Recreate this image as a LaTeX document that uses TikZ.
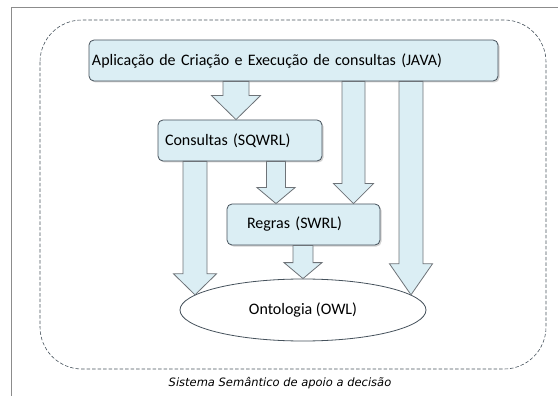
\documentclass[tikz,border=0pt]{standalone}
\usepackage{fontspec}
\setmainfont{Carlito}
\newfontfamily\captionfont{DejaVu Sans}
\usepackage{xcolor}
\definecolor{colorBox}{HTML}{DBEEF4}
\definecolor{colorBorder}{HTML}{46525C}
\definecolor{colorArrow}{HTML}{6E7378}
\definecolor{colorFrame}{HTML}{8C8C8C}
\usepackage{tikz}
\usetikzlibrary{calc, shapes.geometric, shadows}
\tikzset{
  querybox/.style={draw=colorBorder, fill=colorBox, rounded corners=5pt, thick,
    minimum height=41pt, align=left, font=\fontsize{16}{18}\selectfont,
    drop shadow={shadow xshift=1.5pt, shadow yshift=-1.5pt, opacity=0.35}},
  ontology/.style={ellipse, draw=colorBorder, fill=white, thick, inner sep=0pt,
    minimum width=246pt, minimum height=62pt, font=\fontsize{16}{18}\selectfont},
  fatarrow/.style={draw=colorArrow, fill=colorBox, thick, line join=miter},
}
% shaft half width, head half width, head length, start, tip
\newcommand{\fatarrow}[5]{%
  \draw[fatarrow] let \p1=#4, \p2=#5 in
    (\x1-#1pt,\y1) -- (\x1-#1pt,\y2+#3pt) -- (\x1-#2pt,\y2+#3pt) -- (\x1,\y2)
    -- (\x1+#2pt,\y2+#3pt) -- (\x1+#1pt,\y2+#3pt) -- (\x1+#1pt,\y1) -- cycle;
}

\begin{document}
\begin{tikzpicture}[x=1pt, y=-1pt]
\useasboundingbox (0,0) rectangle (558,396);
\draw[colorFrame, thick] (11,396) -- (11,7) -- (558,7);
\draw[colorBorder, semithick, dash pattern=on 3.5pt off 2pt, rounded corners=42pt] (40,20) rectangle (546,369);

\node[querybox, inner xsep=3pt, text width=403pt] (java) at (293.5,60.5) {Aplicação de Criação e Execução de consultas (JAVA)};
\node[querybox, inner xsep=7pt, text width=150pt] (sqwrl) at (240,140.5) {Consultas (SQWRL)};
\node[querybox, inner xsep=20pt, text width=113pt] (swrl) at (303.5,224.5) {Regras (SWRL)};
\node[ontology] (owl) at (303,310) {Ontologia (OWL)};

\fatarrow{13}{24.5}{24}{(236,0 |- java.south)}{(236,0 |- sqwrl.north)}
\fatarrow{9.5}{19}{16}{(276,0 |- sqwrl.south)}{(276,0 |- swrl.north)}
\fatarrow{11.5}{20}{20}{(353.5,0 |- java.south)}{(353.5,0 |- swrl.north)}
\fatarrow{12}{21.5}{31}{(411,0 |- java.south)}{(411,0 |- owl.8)}
\fatarrow{12}{21.5}{21}{(195,0 |- sqwrl.south)}{(195,0 |- owl.172)}
\fatarrow{10}{19}{16}{(303,0 |- swrl.south)}{(owl.north)}

\node[font=\captionfont\itshape\fontsize{11.5}{13}\selectfont] (caption) at (280,383) {Sistema Semântico  de apoio a decisão};
\end{tikzpicture}
\end{document}
